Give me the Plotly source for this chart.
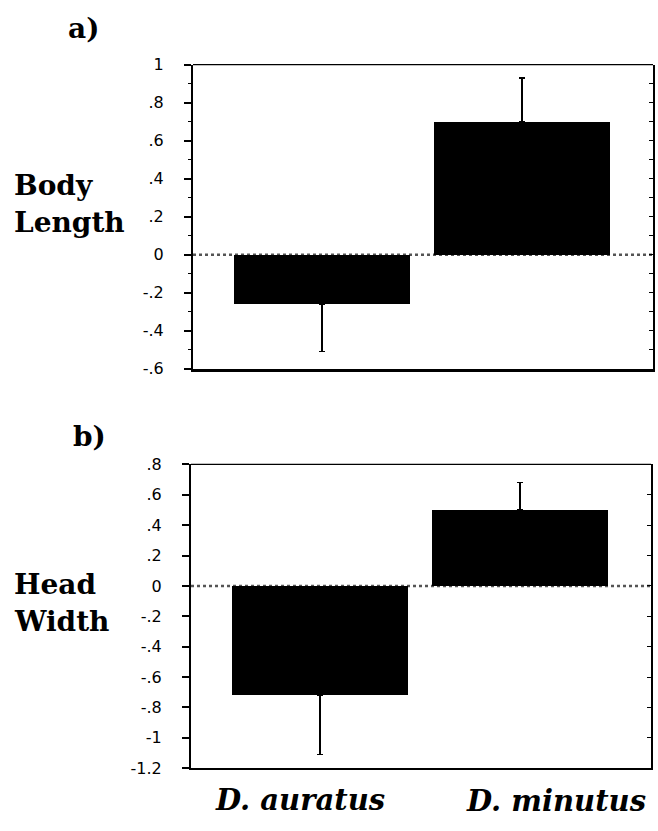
import plotly.graph_objects as go

# Species compared in both panels
species = ["D. auratus", "D. minutus"]

# a) body length: mean and one-sided error
body_mean = [-0.26, 0.70]
body_err = [0.25, 0.23]

# b) head width: mean and one-sided error
head_mean = [-0.72, 0.50]
head_err = [0.39, 0.18]

# y tick values and their labels
body_ticks = [1, 0.8, 0.6, 0.4, 0.2, 0, -0.2, -0.4, -0.6]
body_ticktext = ["1", ".8", ".6", ".4", ".2", "0", "-.2", "-.4", "-.6"]
head_ticks = [0.8, 0.6, 0.4, 0.2, 0, -0.2, -0.4, -0.6, -0.8, -1, -1.2]
head_ticktext = [".8", ".6", ".4", ".2", "0", "-.2", "-.4", "-.6", "-.8", "-1", "-1.2"]

W, H = 658, 831
TICKFONT = dict(family="DejaVu Sans, Liberation Sans, sans-serif", size=16, color="black")
SERIF_B = "DejaVu Serif, Liberation Serif, serif"


def one_sided(means, errs):
    up = [e if m >= 0 else 0 for m, e in zip(means, errs)]
    down = [e if m < 0 else 0 for m, e in zip(means, errs)]
    return up, down


fig = go.Figure()

for means, errs, xa, ya in [(body_mean, body_err, "x", "y"), (head_mean, head_err, "x2", "y2")]:
    up, down = one_sided(means, errs)
    fig.add_trace(go.Bar(
        x=species, y=means, xaxis=xa, yaxis=ya, width=0.88,
        marker=dict(color="black", line=dict(width=0)),
        error_y=dict(type="data", symmetric=False, array=up, arrayminus=down,
                     color="black", thickness=1.5, width=3),
        showlegend=False,
    ))

xrange_ = [-0.645, 1.655]

fig.update_layout(
    width=W, height=H, margin=dict(l=0, r=0, t=0, b=0),
    paper_bgcolor="white", plot_bgcolor="white",
    bargap=0,
    xaxis=dict(domain=[193 / W, 653 / W], anchor="y", range=xrange_,
               showline=True, linecolor="black", linewidth=3,
               ticks="", showticklabels=False, showgrid=False, zeroline=False),
    yaxis=dict(domain=[1 - 368 / H, 1 - 57 / H], anchor="x", range=[-0.6, 1.0],
               tickvals=body_ticks, ticktext=body_ticktext, tickfont=TICKFONT,
               ticks="outside", ticklen=7, tickwidth=1.5, tickcolor="black",
               minor=dict(dtick=0.1, tick0=0, ticks="outside", ticklen=3,
                          tickwidth=1.2, tickcolor="black", showgrid=False),
               ticklabelstandoff=17,
               showline=True, linecolor="black", linewidth=2,
               showgrid=False, zeroline=False),
    yaxis3=dict(overlaying="y", side="right", anchor="x", range=[-0.6, 1.0],
                dtick=0.1, tick0=0, ticks="inside", ticklen=4, tickwidth=1.2,
                tickcolor="black", showticklabels=False,
                showline=True, linecolor="black", linewidth=1.5,
                showgrid=False, zeroline=False),
    xaxis2=dict(domain=[191 / W, 651 / W], anchor="y2", range=xrange_,
                showline=True, linecolor="black", linewidth=1.5,
                ticks="", showticklabels=False, showgrid=False, zeroline=False),
    yaxis2=dict(domain=[1 - 777 / H, 1 - 466 / H], anchor="x2", range=[-1.2, 0.8],
                tickvals=head_ticks, ticktext=head_ticktext, tickfont=TICKFONT,
                ticks="outside", ticklen=7, tickwidth=1.5, tickcolor="black",
                ticklabelstandoff=17,
                showline=True, linecolor="black", linewidth=2,
                showgrid=False, zeroline=False),
    yaxis4=dict(overlaying="y2", side="right", anchor="x2", range=[-1.2, 0.8],
                dtick=0.2, tick0=0, ticks="inside", ticklen=4, tickwidth=1.2,
                tickcolor="black", showticklabels=False,
                showline=True, linecolor="black", linewidth=1.5,
                showgrid=False, zeroline=False),
)

# invisible traces so the right-hand mirror axes get drawn
fig.add_trace(go.Scatter(x=[species[0]], y=[None], xaxis="x", yaxis="y3",
                         showlegend=False, hoverinfo="skip"))
fig.add_trace(go.Scatter(x=[species[0]], y=[None], xaxis="x2", yaxis="y4",
                         showlegend=False, hoverinfo="skip"))

# dotted zero reference lines and top frame edges
for xa, ya in [("x", "y"), ("x2", "y2")]:
    fig.add_shape(type="line", xref=f"{xa} domain", yref=ya, x0=0, x1=1, y0=0, y1=0,
                  line=dict(color="#555555", width=2.5, dash="dot"), layer="below")
    fig.add_shape(type="line", xref=f"{xa} domain", yref=f"{ya} domain",
                  x0=0, x1=1, y0=1, y1=1, line=dict(color="black", width=1.2))


def label(text, x, y, size, xanchor="left", italic=False):
    fig.add_annotation(
        text=text, xref="paper", yref="paper", x=x / W, y=1 - y / H,
        xanchor=xanchor, yanchor="middle", showarrow=False,
        font=dict(family=SERIF_B, size=size, color="black",
                  weight="bold", style="italic" if italic else "normal"),
    )


label("a)", 66, 20, 28)
label("b)", 71, 437, 28)
label("Body", 12, 181, 28)
label("Length", 12, 219, 28)
label("Head", 12, 589, 28)
label("Width", 12, 627, 28)
label("D. auratus", 300, 809, 29, xanchor="center", italic=True)
label("D. minutus", 556, 811, 29, xanchor="center", italic=True)

fig.write_html("out.html")
